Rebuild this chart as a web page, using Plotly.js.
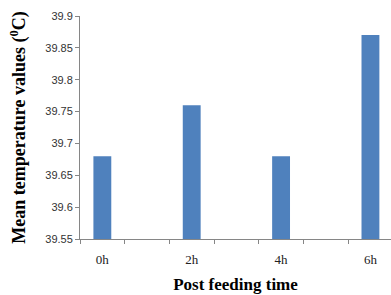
<!DOCTYPE html>
<html><head><meta charset="utf-8">
<script src="https://cdn.plot.ly/plotly-3.0.1.min.js"></script>
<style>html,body{margin:0;padding:0;background:#fff}#chart{width:391px;height:295px}</style>
</head><body><div id="chart"></div>
<script>
var categories = ["0h","1h","2h","3h","4h","5h","6h"];
var tickLabels = ["0h","","2h","","4h","","6h"];
var meanTemp = [39.68, null, 39.76, null, 39.68, null, 39.87];
var yTicks = [39.55, 39.6, 39.65, 39.7, 39.75, 39.8, 39.85, 39.9];

Plotly.newPlot("chart", [{
  type: "bar", x: categories, y: meanTemp,
  marker: {color: "#4F81BD"}, hoverinfo: "none"
}], {
  width: 391, height: 295,
  margin: {l: 80, r: 0, t: 16, b: 56},
  paper_bgcolor: "#fff", plot_bgcolor: "#fff",
  bargap: 0.6, showlegend: false,
  xaxis: {
    type: "category", range: [-0.5, 6.46],
    tickvals: categories, ticktext: tickLabels, tickson: "boundaries",
    ticks: "outside", ticklen: 4, tickcolor: "#868686",
    ticklabelstandoff: 8,
    showline: true, linecolor: "#868686", linewidth: 1,
    showgrid: false, zeroline: false,
    tickfont: {family: "Liberation Serif", size: 13, color: "#222"},
    title: {text: "<b>Post feeding time</b>", font: {family: "Liberation Serif", size: 17, color: "#000"}, standoff: 12}
  },
  yaxis: {
    range: [39.55, 39.9], tickvals: yTicks, ticktext: yTicks.map(String),
    ticks: "outside", ticklen: 4, tickcolor: "#868686",
    showline: true, linecolor: "#868686", linewidth: 1,
    showgrid: false, zeroline: false,
    tickfont: {family: "Liberation Sans", size: 11, color: "#333"},
    title: {text: "<b>Mean temperature values (<sup>0</sup>C)</b>", font: {family: "Liberation Serif", size: 18, color: "#000"}, standoff: 14}
  }
}, {staticPlot: true});
</script></body></html>
